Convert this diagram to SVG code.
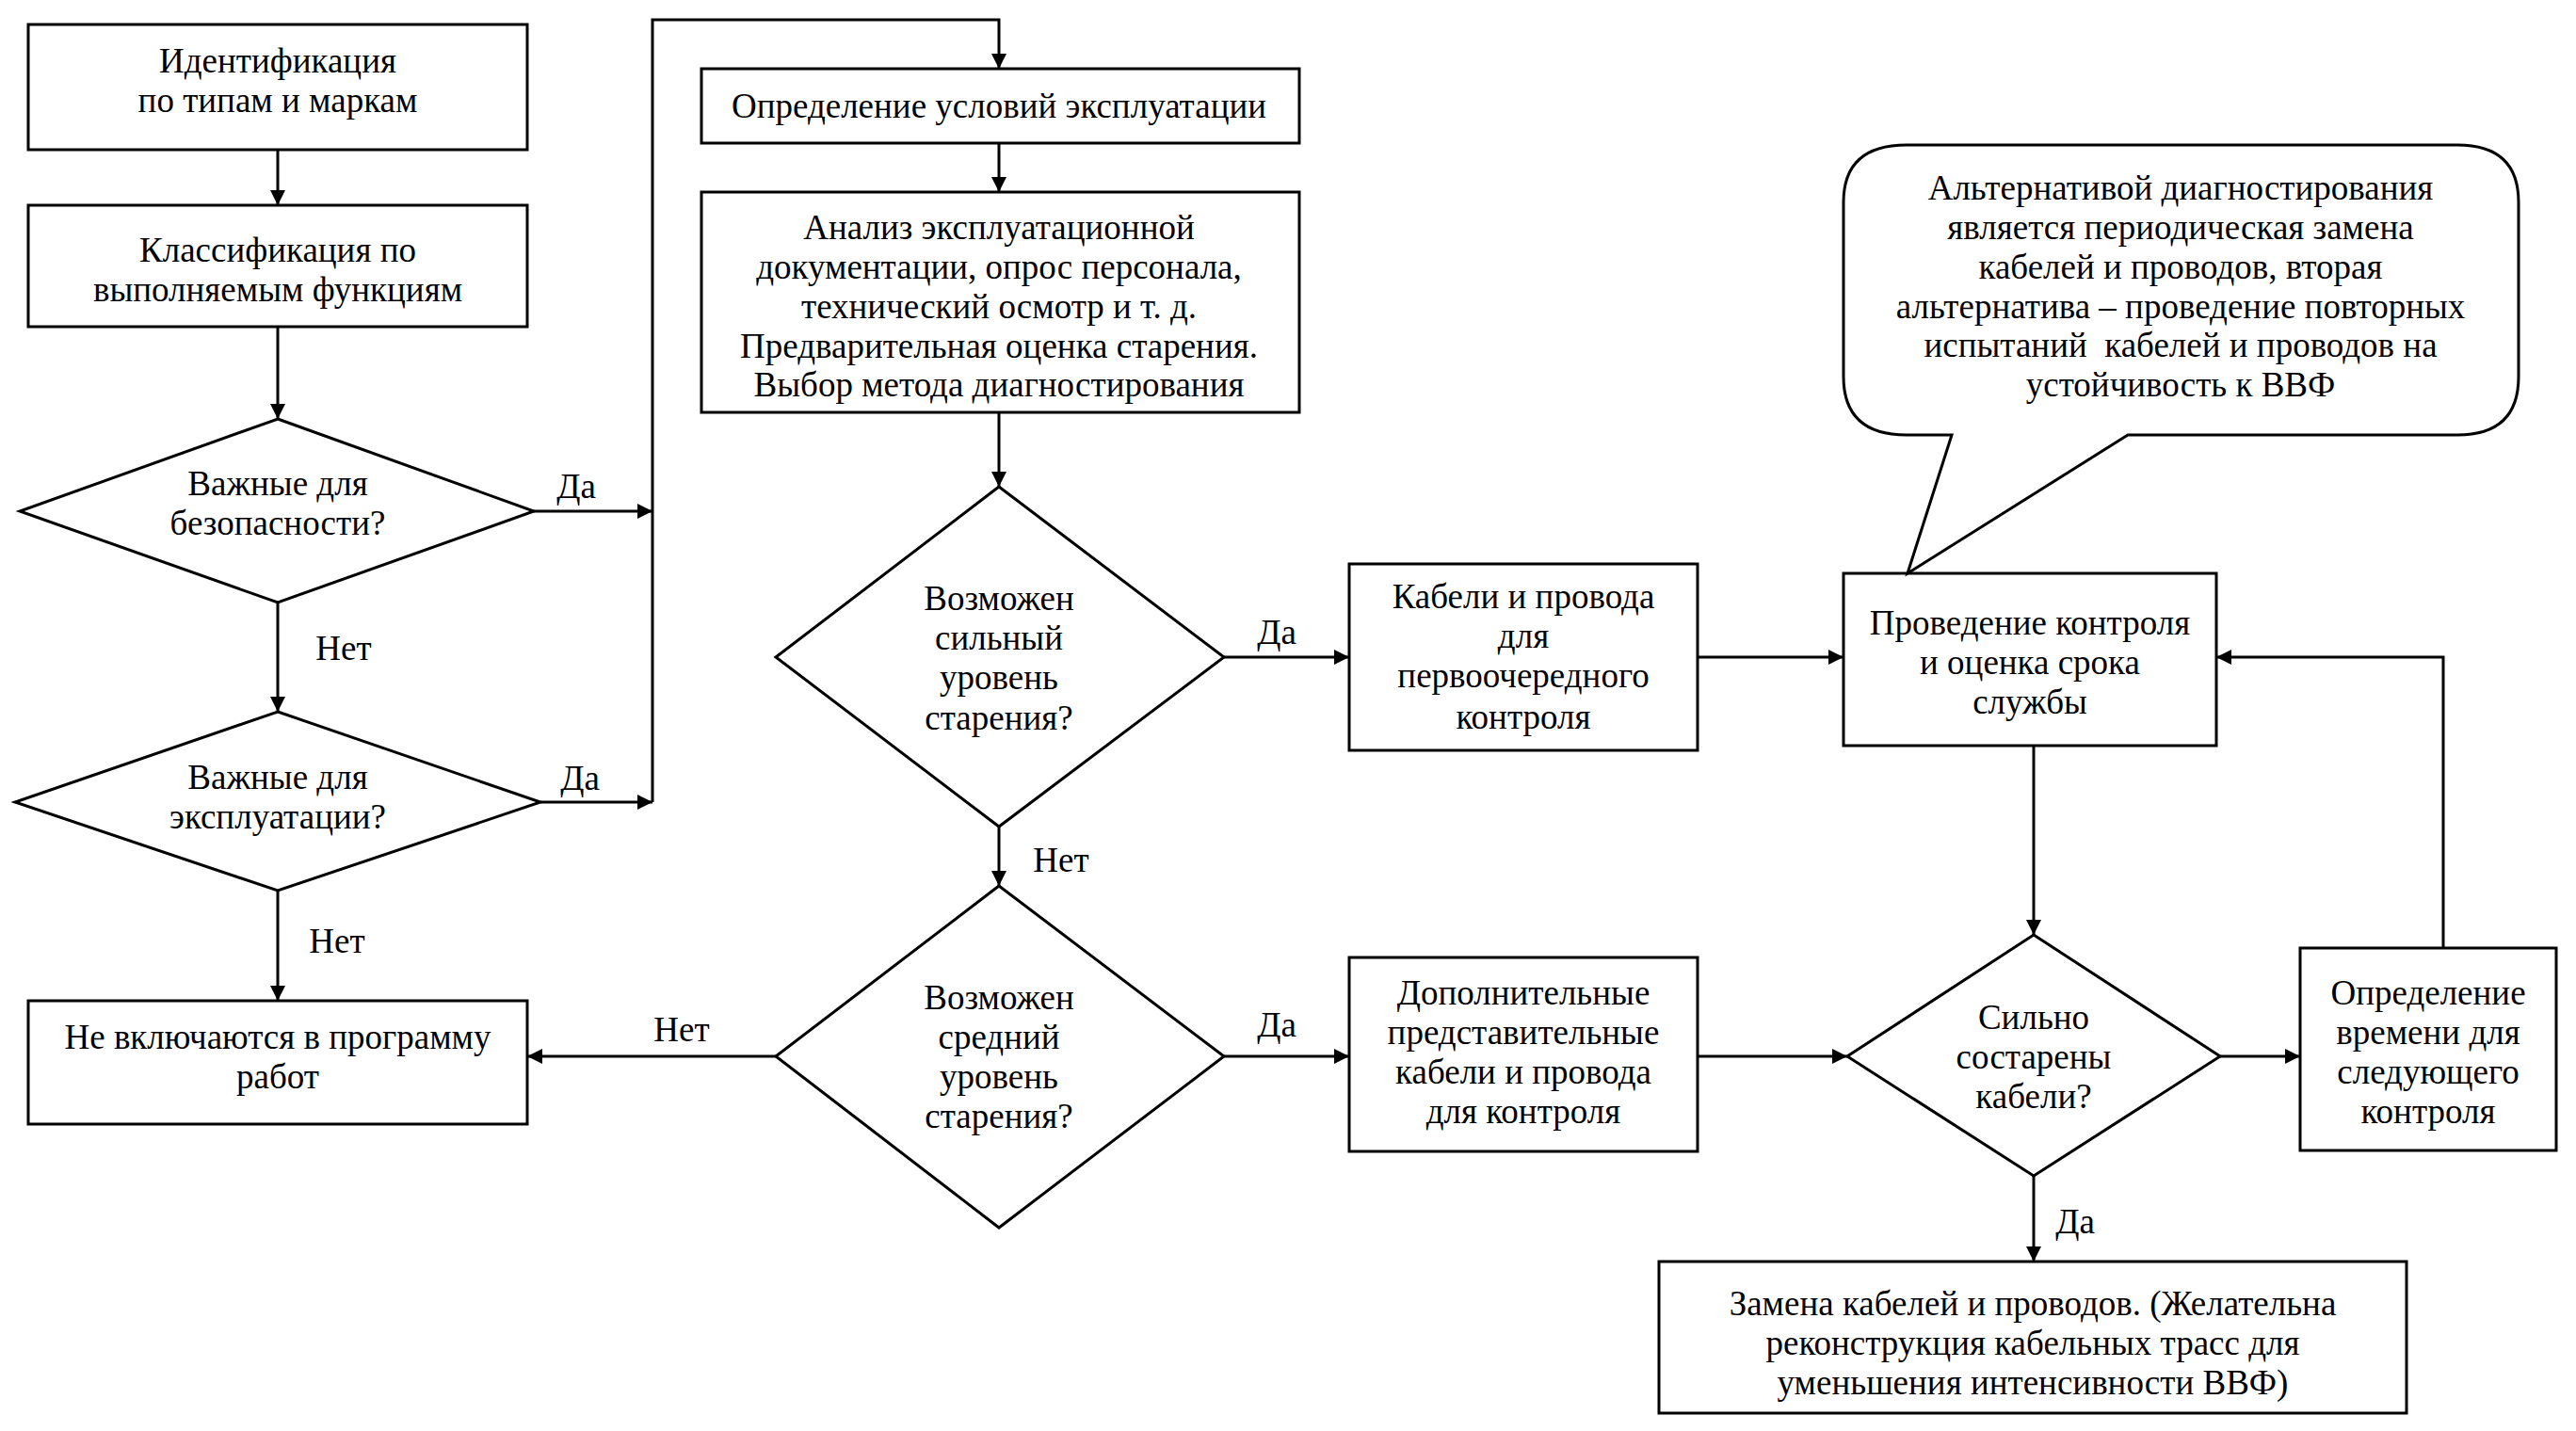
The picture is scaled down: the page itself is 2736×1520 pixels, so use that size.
<svg xmlns="http://www.w3.org/2000/svg" width="2736" height="1520" viewBox="0 0 2736 1520">
<defs>
<marker id="ah" viewBox="0 0 10 10" refX="10" refY="5" markerWidth="16" markerHeight="16" markerUnits="userSpaceOnUse" orient="auto">
<path d="M0,0 L10,5 L0,10 z" fill="#000"/>
</marker>
<style>
.box{fill:#fff;stroke:#000;stroke-width:3}
.t{font-family:"Liberation Serif","Times New Roman",serif;font-size:37px;fill:#000;text-anchor:middle}
.c{fill:none;stroke:#000;stroke-width:3}
.a{fill:none;stroke:#000;stroke-width:3;marker-end:url(#ah)}
</style>
</defs>
<rect width="2736" height="1520" fill="#fff"/>
<g id="connectors">
<path class="a" d="M295,159 V218"/>
<path class="a" d="M295,347 V445"/>
<path class="a" d="M567,543 H693"/>
<path class="a" d="M295,640 V756"/>
<path class="a" d="M574,852 H693"/>
<path class="a" d="M693,852 V21 H1061 V73"/>
<path class="a" d="M295,946 V1063"/>
<path class="a" d="M1061,152 V204"/>
<path class="a" d="M1061,438 V517"/>
<path class="a" d="M1300,698 H1433"/>
<path class="a" d="M1061,878 V941"/>
<path class="a" d="M824,1122 H560"/>
<path class="a" d="M1300,1122 H1433"/>
<path class="a" d="M1803,698 H1958"/>
<path class="a" d="M1803,1122 H1962"/>
<path class="a" d="M2160,792 V993"/>
<path class="a" d="M2358,1122 H2443"/>
<path class="a" d="M2595,1007 V698 H2354"/>
<path class="a" d="M2160,1249 V1340"/>
<text class="t" x="612" y="529">Да</text>
<text class="t" x="365" y="701">Нет</text>
<text class="t" x="616" y="839">Да</text>
<text class="t" x="358" y="1012">Нет</text>
<text class="t" x="1356" y="684">Да</text>
<text class="t" x="1127" y="926">Нет</text>
<text class="t" x="724" y="1106">Нет</text>
<text class="t" x="1356" y="1101">Да</text>
<text class="t" x="2204" y="1310">Да</text>
</g>
<g id="n-ident">
<rect class="box" x="30" y="26" width="530" height="133"/>
<text class="t" x="295" y="77">Идентификация</text>
<text class="t" x="295" y="119">по типам и маркам</text>
</g>
<g id="n-class">
<rect class="box" x="30" y="218" width="530" height="129"/>
<text class="t" x="295" y="278">Классификация по</text>
<text class="t" x="295" y="320">выполняемым функциям</text>
</g>
<g id="n-safety">
<polygon class="box" points="295,445 567,543 295,640 21,543"/>
<text class="t" x="295" y="526">Важные для</text>
<text class="t" x="295" y="568">безопасности?</text>
</g>
<g id="n-oper">
<polygon class="box" points="295,756 574,852 295,946 16,852"/>
<text class="t" x="295" y="838">Важные для</text>
<text class="t" x="295" y="880">эксплуатации?</text>
</g>
<g id="n-exclude">
<rect class="box" x="30" y="1063" width="530" height="131"/>
<text class="t" x="295" y="1114">Не включаются в программу</text>
<text class="t" x="295" y="1156">работ</text>
</g>
<g id="n-cond">
<rect class="box" x="745" y="73" width="635" height="79"/>
<text class="t" x="1061" y="125">Определение условий эксплуатации</text>
</g>
<g id="n-analysis">
<rect class="box" x="745" y="204" width="635" height="234"/>
<text class="t" x="1061" y="254">Анализ эксплуатационной</text>
<text class="t" x="1061" y="296">документации, опрос персонала,</text>
<text class="t" x="1061" y="338">технический осмотр и т. д.</text>
<text class="t" x="1061" y="380">Предварительная оценка старения.</text>
<text class="t" x="1061" y="421">Выбор метода диагностирования</text>
</g>
<g id="n-strong">
<polygon class="box" points="1061,517 1300,698 1061,878 824,698"/>
<text class="t" x="1061" y="648">Возможен</text>
<text class="t" x="1061" y="690">сильный</text>
<text class="t" x="1061" y="732">уровень</text>
<text class="t" x="1061" y="775">старения?</text>
</g>
<g id="n-medium">
<polygon class="box" points="1061,941 1300,1122 1061,1304 824,1122"/>
<text class="t" x="1061" y="1072">Возможен</text>
<text class="t" x="1061" y="1114">средний</text>
<text class="t" x="1061" y="1156">уровень</text>
<text class="t" x="1061" y="1198">старения?</text>
</g>
<g id="n-priority">
<rect class="box" x="1433" y="599" width="370" height="198"/>
<text class="t" x="1618" y="646">Кабели и провода</text>
<text class="t" x="1618" y="688">для</text>
<text class="t" x="1618" y="730">первоочередного</text>
<text class="t" x="1618" y="774">контроля</text>
</g>
<g id="n-control">
<rect class="box" x="1958" y="609" width="396" height="183"/>
<text class="t" x="2156" y="674">Проведение контроля</text>
<text class="t" x="2156" y="716">и оценка срока</text>
<text class="t" x="2156" y="758">службы</text>
</g>
<g id="n-callout">
<path class="box" d="M2025,154 H2610 Q2675,154 2675,215 V400 Q2675,462 2610,462 H2260 L2026,609 L2073,462 H2025 Q1958,462 1958,400 V215 Q1958,154 2025,154 Z"/>
<text class="t" x="2316" y="212">Альтернативой диагностирования</text>
<text class="t" x="2316" y="254">является периодическая замена</text>
<text class="t" x="2316" y="296">кабелей и проводов, вторая</text>
<text class="t" x="2316" y="338">альтернатива – проведение повторных</text>
<text class="t" x="2316" y="379" xml:space="preserve">испытаний  кабелей и проводов на</text>
<text class="t" x="2316" y="421">устойчивость к ВВФ</text>
</g>
<g id="n-additional">
<rect class="box" x="1433" y="1017" width="370" height="206"/>
<text class="t" x="1618" y="1067">Дополнительные</text>
<text class="t" x="1618" y="1109">представительные</text>
<text class="t" x="1618" y="1151">кабели и провода</text>
<text class="t" x="1618" y="1193">для контроля</text>
</g>
<g id="n-aged">
<polygon class="box" points="2160,993 2358,1122 2160,1249 1962,1122"/>
<text class="t" x="2160" y="1093">Сильно</text>
<text class="t" x="2160" y="1135">состарены</text>
<text class="t" x="2160" y="1177">кабели?</text>
</g>
<g id="n-next">
<rect class="box" x="2443" y="1007" width="272" height="215"/>
<text class="t" x="2579" y="1067">Определение</text>
<text class="t" x="2579" y="1109">времени для</text>
<text class="t" x="2579" y="1151">следующего</text>
<text class="t" x="2579" y="1193">контроля</text>
</g>
<g id="n-replace">
<rect class="box" x="1762" y="1340" width="794" height="161"/>
<text class="t" x="2159" y="1397">Замена кабелей и проводов. (Желательна</text>
<text class="t" x="2159" y="1439">реконструкция кабельных трасс для</text>
<text class="t" x="2159" y="1481">уменьшения интенсивности ВВФ)</text>
</g>
</svg>
